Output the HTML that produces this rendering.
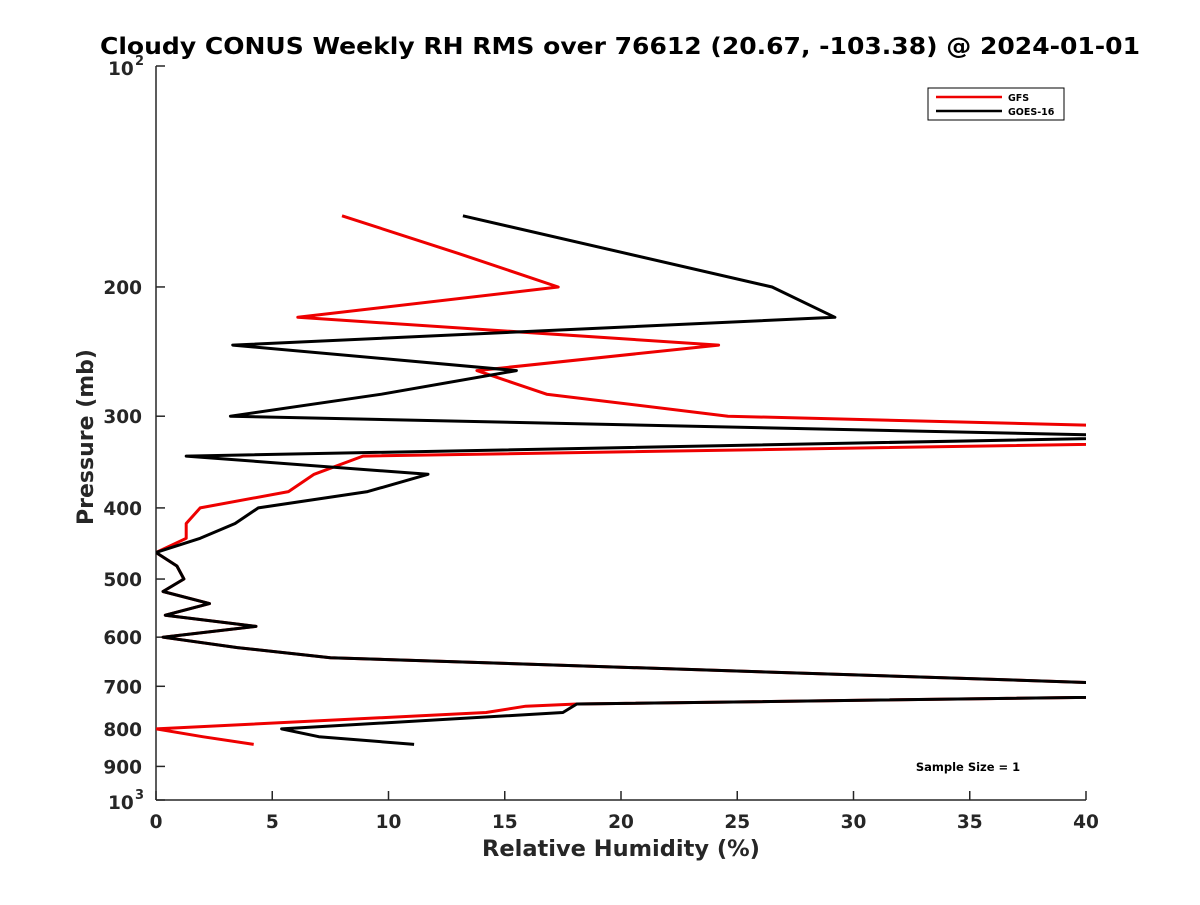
<!DOCTYPE html>
<html><head><meta charset="utf-8"><style>
body{margin:0;background:#fff}
svg{font-family:"DejaVu Sans",sans-serif;font-weight:bold}
</style></head><body>
<svg id="c" width="1200" height="900" xmlns="http://www.w3.org/2000/svg">
<defs><clipPath id="clip"><rect x="156" y="66" width="930" height="734"/></clipPath></defs>
<rect width="1200" height="900" fill="#fff"/>
<text x="620" y="54" text-anchor="middle" font-size="23.5" textLength="1040" lengthAdjust="spacingAndGlyphs" fill="#000">Cloudy CONUS Weekly RH RMS over 76612 (20.67, -103.38) @ 2024-01-01</text>
<g id="axes"></g>
<g id="series" clip-path="url(#clip)"></g>
<text x="621" y="856" text-anchor="middle" font-size="22.5" fill="#262626">Relative Humidity (%)</text>
<text transform="translate(93,437) rotate(-90)" text-anchor="middle" font-size="22" fill="#262626">Pressure (mb)</text>
<g>
<rect x="928" y="88" width="136" height="32" fill="#fff" stroke="#000" stroke-width="1"/>
<line x1="936" y1="97" x2="1002" y2="97" stroke="#e00" stroke-width="2.5"/>
<text x="1008" y="101" font-size="9.5" fill="#000">GFS</text>
<line x1="936" y1="111" x2="1002" y2="111" stroke="#000" stroke-width="2.5"/>
<text x="1008" y="115" font-size="9.5" fill="#000">GOES-16</text>
</g>
<text x="968" y="771" text-anchor="middle" font-size="11.5" fill="#000">Sample Size = 1</text>
</svg>
<script>
const pressures=[160,180,200,220,240,260,280,300,320,340,360,380,400,420,440,460,480,500,520,540,560,580,600,620,640,715,740,745,760,800,820,840];
const gfsValues=[8.0,13.0,17.3,6.1,24.2,13.8,16.8,24.6,60,8.9,6.8,5.7,1.9,1.3,1.3,0,0.9,1.2,0.3,2.3,0.4,4.3,0.3,3.5,7.5,54,18.1,15.9,14.2,0,2.0,4.2];
const goesPressures=[160,200,220,240,260,280,300,320,340,360,380,400,420,440,460,480,500,520,540,560,580,600,620,640,715,740,760,800,820,840];
const goesValues=[13.2,26.5,29.2,3.3,15.5,9.7,3.2,44,1.3,11.7,9.1,4.4,3.4,1.9,0,0.9,1.2,0.3,2.3,0.4,4.3,0.3,3.5,7.5,54,18.1,17.5,5.4,7.0,11.1];
const xTicks=[0,5,10,15,20,25,30,35,40];
const yTicks=[200,300,400,500,600,700,800,900];
const X0=156,X1=1086,Y0=66,Y1=800;
function xs(v){return X0+(v/40)*(X1-X0);}
function ys(p){return Y0+(Math.log10(p)-2)*(Y1-Y0);}
const NS="http://www.w3.org/2000/svg";
const ax=document.getElementById('axes');
function mk(t,a,par){const e=document.createElementNS(NS,t);for(const k in a)e.setAttribute(k,a[k]);par.appendChild(e);return e;}
const la=mk('line',{x1:X0,y1:Y0,x2:X0,y2:Y1,stroke:'#262626','stroke-width':1.5},ax);


const lb=mk('line',{x1:X0,y1:Y1,x2:X1,y2:Y1,stroke:'#262626','stroke-width':1.5},ax);


xTicks.forEach(v=>{const x=xs(v);
mk('line',{x1:x,y1:Y1,x2:x,y2:Y1-9,stroke:'#262626','stroke-width':1.5},ax);
const t=mk('text',{x:x,y:Y1+28,'text-anchor':'middle','font-size':18.5,fill:'#262626'},ax);t.textContent=v;

});
yTicks.forEach(p=>{const y=ys(p);
mk('line',{x1:X0,y1:y,x2:X0+9,y2:y,stroke:'#262626','stroke-width':1.5},ax);
const t=mk('text',{x:X0-14,y:y+7,'text-anchor':'end','font-size':18.5,fill:'#262626'},ax);t.textContent=p;

});
[[100,'2'],[1000,'3']].forEach(d=>{const y=ys(d[0]);
mk('line',{x1:X0,y1:y,x2:X0+9,y2:y,stroke:'#262626','stroke-width':1.5},ax);
const t=mk('text',{x:X0-48,y:y+9,'text-anchor':'start','font-size':18.5,fill:'#262626'},ax);t.textContent='10';


const s=mk('text',{x:X0-21,y:y-1,'text-anchor':'start','font-size':13,fill:'#262626'},ax);s.textContent=d[1];

});
const sg=document.getElementById('series');
function line(ps,vs,col,name){const pts=ps.map((p,i)=>xs(vs[i]).toFixed(1)+','+ys(p).toFixed(1)).join(' ');
const e=mk('polyline',{points:pts,fill:'none',stroke:col,'stroke-width':3,'stroke-linejoin':'round'},sg);

}
line(pressures,gfsValues,'#e00','gfs-line');
line(goesPressures,goesValues,'#000','goes16-line');
</script>
</body></html>
